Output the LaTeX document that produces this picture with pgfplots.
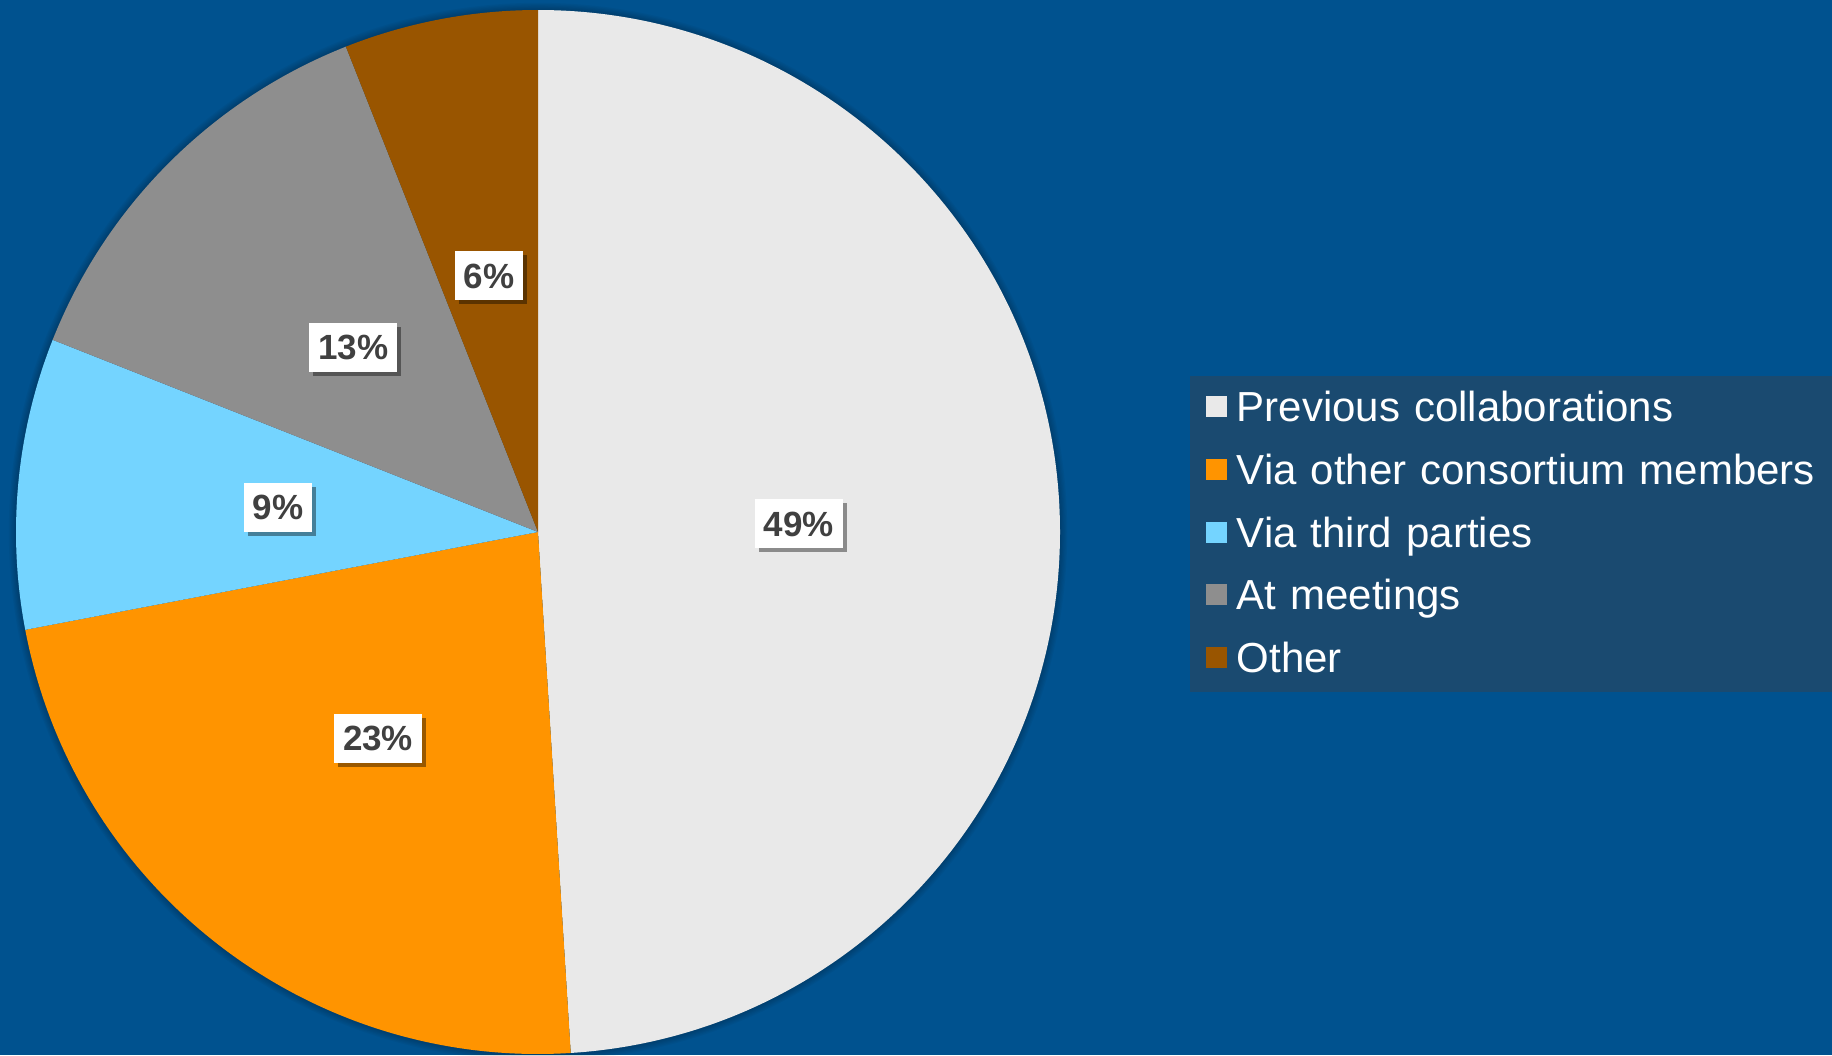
\documentclass[border=0pt]{standalone}
\usepackage{pgfplots}
\pgfplotsset{compat=1.18}
\usepackage{pgfplotstable}
\usepackage{fontspec}
\setmainfont{Liberation Sans}
\usetikzlibrary{shadows}

\definecolor{cBg}{HTML}{00528F}
\definecolor{cLegBg}{HTML}{1A4A70}
\definecolor{cPrev}{HTML}{E9E9E9}
\definecolor{cVia}{HTML}{FF9400}
\definecolor{cThird}{HTML}{74D4FF}
\definecolor{cMeet}{HTML}{8E8E8E}
\definecolor{cOther}{HTML}{995500}
\definecolor{cLabel}{HTML}{404040}

% share of answers, clockwise from 12 o'clock
\pgfplotstableread[col sep=comma]{
source,share,colour
Previous collaborations,49,cPrev
Via other consortium members,23,cVia
Via third parties,9,cThird
At meetings,13,cMeet
Other,6,cOther
}\piedata

\tikzset{
  plabel/.style={fill=white, text=cLabel,
    font=\bfseries\fontsize{9.96}{12}\selectfont,
    inner xsep=0.09cm, inner ysep=0.12cm,
    text height=0.25cm, text depth=0cm,
    drop shadow={shadow xshift=0.04cm, shadow yshift=-0.04cm,
      opacity=0.4, fill=black}},
}

\begin{document}
\begin{tikzpicture}
\useasboundingbox (0,0) rectangle (18.32,10.55);
\fill[cBg] (0,0) rectangle (18.32,10.55);
% soft halo round the pie
\foreach \k in {1,...,6}{
  \fill[black, opacity=0.035] (5.38,5.23) circle[radius=5.22cm+\k*0.012cm];
}
\begin{axis}[
  at={(0.16cm,0.01cm)}, anchor=south west,
  scale only axis, width=10.44cm, height=10.44cm,
  xmin=-1, xmax=1, ymin=-1, ymax=1,
  hide axis, clip=false,
  legend image code/.code={\fill[#1, draw=none] (0cm,0.045cm) rectangle (0.21cm,0.255cm);},
  legend style={at={(1.1236,0.6504)}, anchor=north west,
    draw=none, fill=cLegBg, inner xsep=0.16cm, inner ysep=0.125cm,
    column sep=0.10cm, row sep=0.2275cm,
    nodes={inner sep=0pt, text=white, anchor=base west,
      font=\fontsize{11.95}{14}\selectfont,
      text height=0.335cm, text depth=0.065cm, text width=5.82cm}},
]
\pgfplotstablegetrowsof{\piedata}
\pgfmathtruncatemacro\lastrow{\pgfplotsretval-1}
% wedges
\def\angA{90}
\pgfplotsforeachungrouped \i in {0,...,\lastrow}{
  \pgfplotstablegetelem{\i}{share}\of\piedata \let\val\pgfplotsretval
  \pgfplotstablegetelem{\i}{colour}\of\piedata \let\col\pgfplotsretval
  \pgfmathsetmacro\angB{\angA-3.6*\val}
  \edef\temp{\noexpand\fill[\col] (axis cs:0,0) -- (axis cs:{cos(\angA)},{sin(\angA)})
    arc[start angle=\angA, end angle=\angB, radius=5.22cm] -- cycle;}
  \temp
  \let\angA\angB
}
% data labels at half radius
\def\angA{90}
\pgfplotsforeachungrouped \i in {0,...,\lastrow}{
  \pgfplotstablegetelem{\i}{share}\of\piedata \let\val\pgfplotsretval
  \pgfmathsetmacro\angB{\angA-3.6*\val}
  \pgfmathsetmacro\angM{(\angA+\angB)/2}
  \edef\temp{\noexpand\node[plabel] at (axis cs:{0.5*cos(\angM)},{0.5*sin(\angM)}) {\val\noexpand\%};}
  \temp
  \let\angA\angB
}
\addlegendimage{fill=cPrev}
\addlegendentry{Previous collaborations}
\addlegendimage{fill=cVia}
\addlegendentry{Via other consortium members}
\addlegendimage{fill=cThird}
\addlegendentry{Via third parties}
\addlegendimage{fill=cMeet}
\addlegendentry{At meetings}
\addlegendimage{fill=cOther}
\addlegendentry{Other}
\end{axis}
\end{tikzpicture}
\end{document}
